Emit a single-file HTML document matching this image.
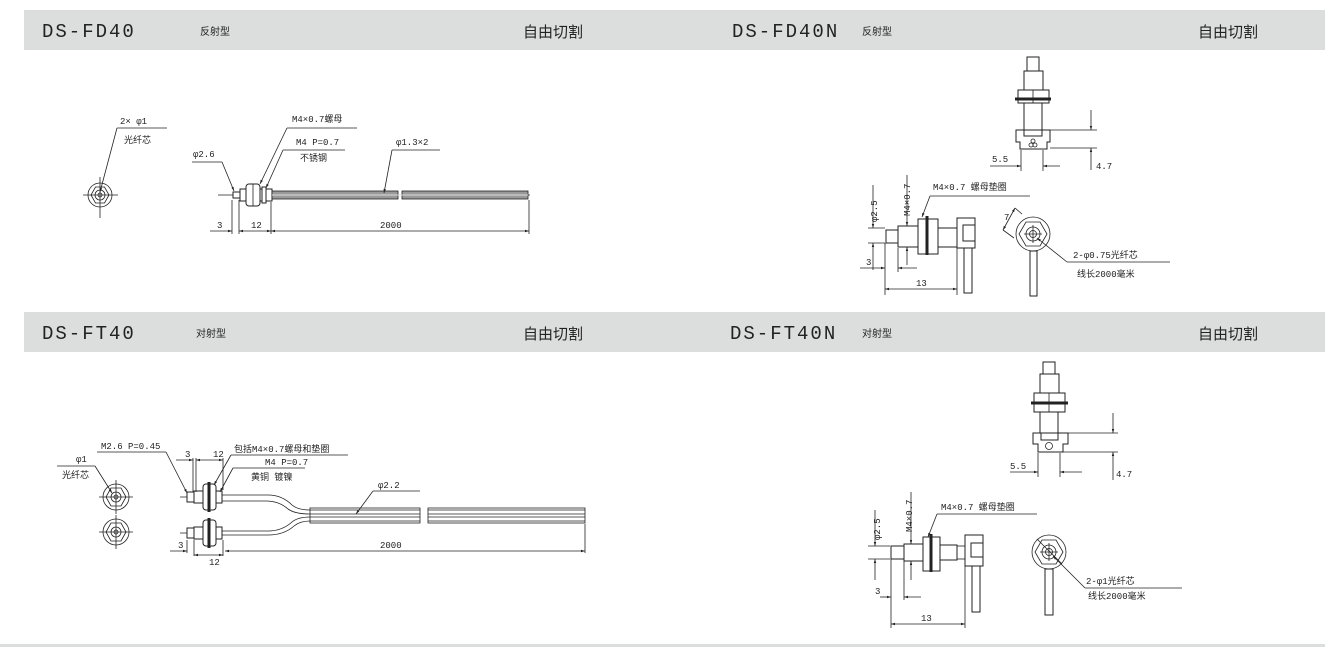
<!DOCTYPE html>
<html><head><meta charset="utf-8"><style>
html,body{margin:0;padding:0;background:#fff;}
svg{display:block;}
text{font-family:"Liberation Mono","Noto Sans CJK SC",monospace;fill:#222;}
.h{font-family:"Liberation Sans","Noto Sans CJK SC",sans-serif;}
.s{font-size:9px;}
.l{stroke:#222;stroke-width:0.8;fill:none;}
.b{stroke:#222;stroke-width:1;fill:#fff;}
.t{stroke:#222;stroke-width:3;}
</style></head><body>
<svg width="1336" height="647" viewBox="0 0 1336 647" xmlns="http://www.w3.org/2000/svg">
<defs>
<marker id="a" viewBox="0 0 10 10" refX="10" refY="5" markerWidth="7" markerHeight="5" orient="auto-start-reverse"><path d="M0,2 L10,5 L0,8z" fill="#222"/></marker>
</defs>
<!-- bands -->
<rect x="24" y="10" width="1301" height="40" fill="#dcdedd"/>
<rect x="24" y="312" width="1301" height="40" fill="#dcdedd"/>
<rect x="0" y="644" width="1325" height="3" fill="#dcdedd"/>
<g class="h">
<text x="42" y="37" font-size="19" letter-spacing="2" font-family="Liberation Mono">DS-FD40</text>
<text x="200" y="35" font-size="10">反射型</text>
<text x="523" y="37" font-size="15">自由切割</text>
<text x="732" y="37" font-size="19" letter-spacing="2" font-family="Liberation Mono">DS-FD40N</text>
<text x="862" y="35" font-size="10">反射型</text>
<text x="1198" y="37" font-size="15">自由切割</text>
<text x="42" y="339" font-size="19" letter-spacing="2" font-family="Liberation Mono">DS-FT40</text>
<text x="196" y="337" font-size="10">对射型</text>
<text x="523" y="339" font-size="15">自由切割</text>
<text x="730" y="339" font-size="19" letter-spacing="2" font-family="Liberation Mono">DS-FT40N</text>
<text x="862" y="337" font-size="10">对射型</text>
<text x="1198" y="339" font-size="15">自由切割</text>
</g>

<!-- ===== DS-FD40 ===== -->
<g>
<circle cx="100" cy="195" r="12" class="l"/>
<polygon points="109,195 104.5,203 95.5,203 91,195 95.5,187 104.5,187" class="l"/>
<circle cx="100" cy="195" r="5" class="l" stroke-width="1.5"/>
<circle cx="100" cy="195" r="2" class="l"/>
<line x1="83" y1="195" x2="118" y2="195" class="l"/>
<line x1="100" y1="177" x2="100" y2="218" class="l"/>
<text x="120" y="124" class="s">2× φ1</text>
<line x1="117" y1="128" x2="167" y2="128" class="l"/>
<text x="124" y="143" class="s">光纤芯</text>
<line x1="117" y1="128" x2="100" y2="192" class="l" marker-end="url(#a)"/>

<line x1="218" y1="195" x2="530" y2="195" class="l"/>
<rect x="233" y="192" width="7" height="6" class="b"/>
<rect x="240" y="189" width="32" height="12" class="b"/>
<rect x="246" y="184" width="14" height="22" rx="3" class="b"/>
<line x1="253" y1="184" x2="253" y2="206" class="l"/>
<rect x="262" y="187" width="4" height="16" class="b"/>
<rect x="272" y="191" width="126" height="8" fill="#999" stroke="#222" stroke-width="0.8"/>
<rect x="402" y="191" width="126" height="8" fill="#999" stroke="#222" stroke-width="0.8"/>
<line x1="272" y1="195" x2="528" y2="195" stroke="#ddd" stroke-width="1"/>
<line x1="232" y1="200" x2="232" y2="234" class="l"/>
<line x1="239" y1="200" x2="239" y2="234" class="l"/>
<line x1="271" y1="202" x2="271" y2="234" class="l"/>
<line x1="529" y1="200" x2="529" y2="234" class="l"/>
<line x1="210" y1="231" x2="232" y2="231" class="l" marker-end="url(#a)"/>
<line x1="239" y1="231" x2="271" y2="231" class="l" marker-start="url(#a)" marker-end="url(#a)"/>
<line x1="271" y1="231" x2="529" y2="231" class="l" marker-start="url(#a)" marker-end="url(#a)"/>
<text x="217" y="228" class="s">3</text>
<text x="251" y="228" class="s">12</text>
<text x="380" y="228" class="s">2000</text>
<text x="193" y="157" class="s">φ2.6</text>
<line x1="192" y1="162" x2="222" y2="162" class="l"/>
<line x1="222" y1="162" x2="234" y2="191" class="l" marker-end="url(#a)"/>
<text x="292" y="122" class="s">M4×0.7螺母</text>
<line x1="287" y1="128" x2="357" y2="128" class="l"/>
<line x1="287" y1="128" x2="260" y2="184" class="l" marker-end="url(#a)"/>
<text x="296" y="145" class="s">M4 P=0.7</text>
<line x1="283" y1="150" x2="345" y2="150" class="l"/>
<text x="300" y="161" class="s">不锈钢</text>
<line x1="283" y1="150" x2="266" y2="188" class="l" marker-end="url(#a)"/>
<text x="396" y="145" class="s">φ1.3×2</text>
<line x1="392" y1="150" x2="440" y2="150" class="l"/>
<line x1="392" y1="150" x2="384" y2="193" class="l" marker-end="url(#a)"/>
</g>

<!-- ===== DS-FD40N ===== -->
<g>
<rect x="1027" y="57" width="12" height="14" class="b"/>
<rect x="1024" y="71" width="19" height="21" class="b"/>
<rect x="1018" y="90" width="31" height="13" class="b"/>
<line x1="1033" y1="90" x2="1033" y2="103" class="l"/>
<line x1="1015" y1="99" x2="1051" y2="99" class="t"/>
<rect x="1024" y="103" width="18" height="27" class="b"/>
<path d="M1016,130 H1024 V136 H1042 V130 H1050 V142 H1047 V149 H1020 V142 H1016 Z" class="b"/>
<circle cx="1031" cy="145" r="2" class="l"/><circle cx="1035" cy="145" r="2" class="l"/><circle cx="1033" cy="141" r="2" class="l"/>
<line x1="1050" y1="130" x2="1097" y2="130" class="l"/>
<line x1="1050" y1="148" x2="1097" y2="148" class="l"/>
<line x1="1091" y1="110" x2="1091" y2="130" class="l" marker-end="url(#a)"/>
<line x1="1091" y1="170" x2="1091" y2="148" class="l" marker-end="url(#a)"/>
<text x="1096" y="169" class="s">4.7</text>
<line x1="1021" y1="150" x2="1021" y2="171" class="l"/>
<line x1="1043" y1="150" x2="1043" y2="171" class="l"/>
<line x1="990" y1="166" x2="1021" y2="166" class="l" marker-end="url(#a)"/>
<line x1="1060" y1="166" x2="1043" y2="166" class="l" marker-end="url(#a)"/>
<text x="992" y="162" class="s">5.5</text>

<rect x="886" y="230" width="12" height="13" class="b"/>
<rect x="898" y="226" width="20" height="21" class="b"/>
<rect x="918" y="219" width="20" height="35" class="b"/>
<line x1="927" y1="216" x2="927" y2="255" class="t"/>
<rect x="938" y="228" width="19" height="19" class="b"/>
<rect x="957" y="218" width="18" height="30" class="b"/>
<rect x="963" y="225" width="12" height="16" class="b"/>
<rect x="964" y="248" width="8" height="45" class="b"/>
<line x1="873" y1="185" x2="873" y2="228" class="l" marker-end="url(#a)"/>
<line x1="873" y1="270" x2="873" y2="243" class="l" marker-end="url(#a)"/>
<line x1="868" y1="228" x2="885" y2="228" class="l"/>
<line x1="868" y1="243" x2="885" y2="243" class="l"/>
<text transform="translate(877,222) rotate(-90)" class="s">φ2.5</text>
<line x1="907" y1="175" x2="907" y2="226" class="l" marker-end="url(#a)"/>
<line x1="907" y1="265" x2="907" y2="247" class="l" marker-end="url(#a)"/>
<text transform="translate(910,216) rotate(-90)" class="s">M4×0.7</text>
<line x1="860" y1="268" x2="885" y2="268" class="l" marker-end="url(#a)"/>
<line x1="917" y1="268" x2="898" y2="268" class="l" marker-end="url(#a)"/>
<line x1="898" y1="248" x2="898" y2="272" class="l"/>
<text x="866" y="265" class="s">3</text>
<line x1="885" y1="243" x2="885" y2="295" class="l"/>
<line x1="957" y1="248" x2="957" y2="295" class="l"/>
<line x1="885" y1="289" x2="957" y2="289" class="l" marker-start="url(#a)" marker-end="url(#a)"/>
<text x="916" y="286" class="s">13</text>
<text x="933" y="190" class="s">M4×0.7 螺母垫圈</text>
<line x1="930" y1="196" x2="1030" y2="196" class="l"/>
<line x1="930" y1="196" x2="922" y2="217" class="l" marker-end="url(#a)"/>

<circle cx="1033" cy="234" r="17" class="l"/>
<polygon points="1047,234 1040,246 1026,246 1019,234 1026,222 1040,222" class="l"/>
<circle cx="1033" cy="234" r="7" class="l" stroke-width="1.5"/>
<circle cx="1033" cy="234" r="3.5" class="l" stroke-width="1.5"/>
<line x1="1024" y1="234" x2="1042" y2="234" class="l"/>
<line x1="1033" y1="225" x2="1033" y2="243" class="l"/>
<rect x="1030" y="251" width="7" height="45" class="b"/>
<line x1="1015" y1="208" x2="1003" y2="230" class="l" marker-start="url(#a)" marker-end="url(#a)"/>
<line x1="1015" y1="208" x2="1022" y2="214" class="l"/><line x1="1003" y1="230" x2="1014" y2="238" class="l"/>
<text x="1004" y="220" class="s">7</text>
<line x1="1067" y1="262" x2="1037" y2="238" class="l" marker-end="url(#a)"/>
<line x1="1067" y1="262" x2="1170" y2="262" class="l"/>
<text x="1073" y="258" class="s">2-φ0.75光纤芯</text>
<text x="1077" y="277" class="s">线长2000毫米</text>
</g>

<!-- ===== DS-FT40 ===== -->
<g>
<circle cx="116" cy="497" r="13" class="l"/>
<polygon points="126,497 121,506 111,506 106,497 111,488 121,488" class="l"/>
<circle cx="116" cy="497" r="5" class="l" stroke-width="1.5"/>
<circle cx="116" cy="497" r="2" class="l"/>
<line x1="99" y1="497" x2="133" y2="497" class="l"/><line x1="116" y1="480" x2="116" y2="514" class="l"/>
<circle cx="116" cy="532" r="13" class="l"/>
<polygon points="126,532 121,541 111,541 106,532 111,523 121,523" class="l"/>
<circle cx="116" cy="532" r="5" class="l" stroke-width="1.5"/>
<circle cx="116" cy="532" r="2" class="l"/>
<line x1="99" y1="532" x2="133" y2="532" class="l"/><line x1="116" y1="515" x2="116" y2="549" class="l"/>
<text x="76" y="462" class="s">φ1</text>
<line x1="57" y1="466" x2="95" y2="466" class="l"/>
<text x="62" y="478" class="s">光纤芯</text>
<line x1="95" y1="466" x2="112" y2="493" class="l" marker-end="url(#a)"/>

<line x1="180" y1="497" x2="200" y2="497" class="l"/>
<line x1="180" y1="533" x2="200" y2="533" class="l"/>
<path d="M222,495 H268 Q282,495 292,505 Q298,510 310,510 H420 M222,501 H266 Q279,501 288,509 Q295,514 310,514 H420" class="l"/>
<path d="M222,531 H268 Q282,531 292,522 Q298,517 310,517 H420 M222,535 H268 Q284,535 294,526 Q300,521 310,521 H420" class="l"/>
<rect x="310" y="508" width="110" height="15" fill="none" stroke="#222" stroke-width="0.8"/>
<rect x="428" y="508" width="157" height="15" fill="none" stroke="#222" stroke-width="0.8"/>
<path d="M428,510 H585 M428,514 H585 M428,517 H585 M428,521 H585" class="l"/>
<rect x="187" y="492" width="7" height="10" class="b"/>
<rect x="194" y="491" width="28" height="12" class="b"/>
<rect x="203" y="484" width="13" height="26" rx="3" class="b"/>
<line x1="209" y1="482" x2="209" y2="512" class="t"/>
<rect x="187" y="528" width="7" height="10" class="b"/>
<rect x="194" y="527" width="28" height="12" class="b"/>
<rect x="203" y="520" width="13" height="26" rx="3" class="b"/>
<line x1="209" y1="518" x2="209" y2="548" class="t"/>

<line x1="193" y1="458" x2="193" y2="492" class="l"/>
<line x1="196" y1="458" x2="196" y2="492" class="l"/>
<line x1="223" y1="458" x2="223" y2="490" class="l"/>
<line x1="176" y1="460" x2="193" y2="460" class="l" marker-end="url(#a)"/>
<line x1="196" y1="460" x2="223" y2="460" class="l" marker-start="url(#a)" marker-end="url(#a)"/>
<text x="185" y="457" class="s">3</text>
<text x="213" y="457" class="s">12</text>
<line x1="187" y1="540" x2="187" y2="553" class="l"/>
<line x1="194" y1="540" x2="194" y2="556" class="l"/>
<line x1="223" y1="540" x2="223" y2="556" class="l"/>
<line x1="585" y1="524" x2="585" y2="553" class="l"/>
<line x1="170" y1="551" x2="187" y2="551" class="l" marker-end="url(#a)"/>
<line x1="194" y1="555" x2="223" y2="555" class="l" marker-start="url(#a)" marker-end="url(#a)"/>
<line x1="225" y1="551" x2="585" y2="551" class="l" marker-start="url(#a)" marker-end="url(#a)"/>
<text x="178" y="548" class="s">3</text>
<text x="209" y="565" class="s">12</text>
<text x="380" y="548" class="s">2000</text>
<text x="101" y="449" class="s">M2.6 P=0.45</text>
<line x1="97" y1="452" x2="166" y2="452" class="l"/>
<line x1="166" y1="452" x2="187" y2="493" class="l" marker-end="url(#a)"/>
<text x="234" y="452" class="s">包括M4×0.7螺母和垫圈</text>
<line x1="231" y1="455" x2="348" y2="455" class="l"/>
<line x1="231" y1="455" x2="214" y2="485" class="l" marker-end="url(#a)"/>
<text x="265" y="465" class="s">M4 P=0.7</text>
<line x1="233" y1="468" x2="305" y2="468" class="l"/>
<text x="251" y="480" class="s">黄铜 镀镍</text>
<line x1="233" y1="468" x2="220" y2="492" class="l" marker-end="url(#a)"/>
<text x="378" y="488" class="s">φ2.2</text>
<line x1="373" y1="491" x2="420" y2="491" class="l"/>
<line x1="373" y1="491" x2="356" y2="514" class="l" marker-end="url(#a)"/>
</g>

<!-- ===== DS-FT40N ===== -->
<g>
<rect x="1043" y="362" width="12" height="12" class="b"/>
<rect x="1040" y="374" width="19" height="20" class="b"/>
<rect x="1034" y="393" width="31" height="19" class="b"/>
<line x1="1049" y1="393" x2="1049" y2="412" class="l"/>
<line x1="1031" y1="403" x2="1068" y2="403" class="t"/>
<rect x="1040" y="412" width="18" height="21" class="b"/>
<path d="M1033,433 H1041 V440 H1058 V433 H1068 V444 H1063 V452 H1038 V444 H1033 Z" class="b"/>
<circle cx="1049" cy="446" r="3.5" class="l"/>
<line x1="1068" y1="433" x2="1118" y2="433" class="l"/>
<line x1="1063" y1="452" x2="1118" y2="452" class="l"/>
<line x1="1113" y1="413" x2="1113" y2="433" class="l" marker-end="url(#a)"/>
<line x1="1113" y1="480" x2="1113" y2="452" class="l" marker-end="url(#a)"/>
<text x="1116" y="477" class="s">4.7</text>
<line x1="1038" y1="453" x2="1038" y2="477" class="l"/>
<line x1="1060" y1="453" x2="1060" y2="477" class="l"/>
<line x1="1010" y1="472" x2="1038" y2="472" class="l" marker-end="url(#a)"/>
<line x1="1082" y1="472" x2="1060" y2="472" class="l" marker-end="url(#a)"/>
<text x="1010" y="469" class="s">5.5</text>

<rect x="891" y="546" width="13" height="13" class="b"/>
<rect x="904" y="544" width="19" height="17" class="b"/>
<rect x="923" y="537" width="17" height="34" class="b"/>
<line x1="931" y1="534" x2="931" y2="572" class="t"/>
<rect x="940" y="545" width="17" height="15" class="b"/>
<line x1="957" y1="546" x2="965" y2="546" class="l"/><line x1="957" y1="559" x2="965" y2="559" class="l"/>
<rect x="965" y="535" width="18" height="31" class="b"/>
<rect x="971" y="543" width="12" height="14" class="b"/>
<rect x="972" y="566" width="8" height="46" class="b"/>
<line x1="875" y1="510" x2="875" y2="546" class="l" marker-end="url(#a)"/>
<line x1="875" y1="580" x2="875" y2="559" class="l" marker-end="url(#a)"/>
<line x1="868" y1="546" x2="890" y2="546" class="l"/>
<line x1="868" y1="559" x2="890" y2="559" class="l"/>
<text transform="translate(880,540) rotate(-90)" class="s">φ2.5</text>
<line x1="911" y1="492" x2="911" y2="544" class="l" marker-end="url(#a)"/>
<line x1="911" y1="580" x2="911" y2="561" class="l" marker-end="url(#a)"/>
<text transform="translate(912,532) rotate(-90)" class="s">M4×0.7</text>
<line x1="880" y1="597" x2="891" y2="597" class="l" marker-end="url(#a)"/>
<line x1="921" y1="597" x2="904" y2="597" class="l" marker-end="url(#a)"/>
<line x1="904" y1="561" x2="904" y2="600" class="l"/>
<text x="875" y="594" class="s">3</text>
<line x1="891" y1="546" x2="891" y2="628" class="l"/>
<line x1="965" y1="566" x2="965" y2="628" class="l"/>
<line x1="891" y1="624" x2="965" y2="624" class="l" marker-start="url(#a)" marker-end="url(#a)"/>
<text x="921" y="621" class="s">13</text>
<text x="941" y="510" class="s">M4×0.7 螺母垫圈</text>
<line x1="937" y1="514" x2="1037" y2="514" class="l"/>
<line x1="937" y1="514" x2="928" y2="537" class="l" marker-end="url(#a)"/>

<circle cx="1049" cy="552" r="17" class="l"/>
<polygon points="1063,552 1056,564 1042,564 1035,552 1042,540 1056,540" class="l"/>
<circle cx="1049" cy="552" r="7" class="l" stroke-width="1.5"/>
<circle cx="1049" cy="552" r="3.5" class="l" stroke-width="1.5"/>
<line x1="1040" y1="552" x2="1058" y2="552" class="l"/>
<line x1="1049" y1="543" x2="1049" y2="561" class="l"/>
<line x1="1037" y1="539" x2="1062" y2="564" class="l" stroke-width="1.2"/>
<rect x="1045" y="569" width="8" height="46" class="b"/>
<line x1="1085" y1="588" x2="1053" y2="556" class="l" marker-end="url(#a)"/>
<line x1="1085" y1="588" x2="1182" y2="588" class="l"/>
<text x="1086" y="584" class="s">2-φ1光纤芯</text>
<text x="1088" y="599" class="s">线长2000毫米</text>
</g>
</svg>
</body></html>
